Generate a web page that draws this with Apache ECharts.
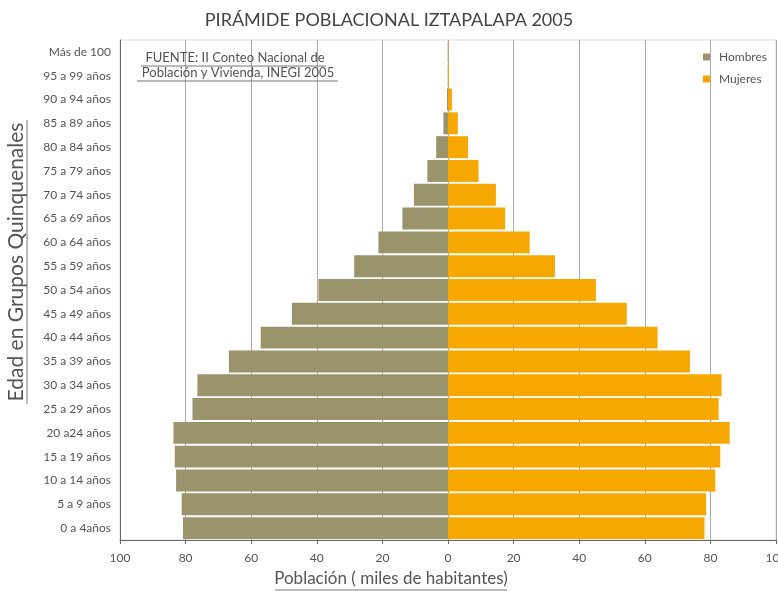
<!DOCTYPE html>
<html>
<head>
<meta charset="utf-8">
<script src="https://cdn.jsdelivr.net/npm/echarts@6/dist/echarts.min.js"></script>
<style>html,body{margin:0;padding:0;background:#fff}#c{width:778px;height:591px}</style>
</head>
<body>
<div id="c"></div>
<script>
const categories = ["0 a 4años","5 a 9 años","10 a 14 años","15 a 19 años","20 a24 años","25 a 29 años","30 a 34 años","35 a 39 años","40 a 44 años","45 a 49 años","50 a 54 años","55 a 59 años","60 a 64 años","65 a 69 años","70 a 74 años","75 a 79 años","80 a 84 años","85 a 89 años","90 a 94 años","95 a 99 años","Más de 100"];
const hombres = [80.8,81.2,82.9,83.3,83.7,77.9,76.4,66.8,57.1,47.6,39.5,28.6,21.2,13.9,10.4,6.3,3.6,1.4,0.3,0.1,0.1];
const mujeres = [78.2,78.7,81.5,83.0,85.9,82.5,83.4,73.8,63.9,54.5,45.1,32.6,24.9,17.4,14.6,9.3,6.1,3.0,1.2,0.3,0.1];
const xTicks = [-100,-80,-60,-40,-20,0,20,40,60,80,100];

const FONT = 'Lato, "DejaVu Sans", sans-serif';
const chart = echarts.init(document.getElementById('c'), null, {renderer:'canvas'});
const txt = (x,y,text,size,extra) => Object.assign({type:'text', x:x, y:y, z:10,
  style:{text:text, font:size+'px '+FONT, fill:'#555', textAlign:'center', textVerticalAlign:'middle', align:'center', verticalAlign:'middle'}}, extra||{});
const ln = (x1,y1,x2,y2) => ({type:'line', z:10, shape:{x1:x1,y1:y1,x2:x2,y2:y2}, style:{stroke:'#777', lineWidth:1}});

chart.setOption({
  animation:false,
  backgroundColor:'#fff',
  title:{text:'PIRÁMIDE POBLACIONAL IZTAPALAPA 2005', left:'center', top:6,
    textStyle:{fontFamily:FONT, fontSize:18, fontWeight:'normal', color:'#444'}},
  legend:{orient:'vertical', left:698, top:46, itemWidth:7, itemHeight:7, itemGap:10, icon:'rect',
    textStyle:{fontFamily:FONT, fontSize:12, color:'#555', padding:[0,0,0,4]},
    data:['Hombres','Mujeres']},
  grid:{left:120, right:2, top:40, bottom:51, outerBoundsMode:'none', containLabel:false,
    show:true, borderColor:'#ddd', borderWidth:1},
  xAxis:{type:'value', min:-100, max:100, interval:20,
    axisLine:{show:true, lineStyle:{color:'#666'}},
    axisTick:{show:true, length:4, lineStyle:{color:'#666'}},
    axisLabel:{formatter:v=>Math.abs(v), fontFamily:FONT, fontSize:12, color:'#555', margin:12},
    splitLine:{show:true, lineStyle:{color:'#aaa', width:1}}},
  yAxis:{type:'category', data:categories,
    axisLine:{show:true, onZero:false, lineStyle:{color:'#666'}},
    axisTick:{show:false},
    axisLabel:{fontFamily:FONT, fontSize:12, color:'#555', margin:9},
    splitLine:{show:false}},
  series:[
    {name:'Hombres', type:'bar', stack:'p', data:hombres.map(v=>-v), barCategoryGap:'8%',
      itemStyle:{color:'#99946C'}},
    {name:'Mujeres', type:'bar', stack:'p', data:mujeres, barCategoryGap:'8%',
      itemStyle:{color:'#F7A800'}}
  ],
  graphic:[
    txt(16,262,'Edad en Grupos Quinquenales',21,{rotation:Math.PI/2}),
    ln(27,120,27,404),
    txt(391,579,'Población ( miles de habitantes)',17),
    ln(275,590,507,590),
    txt(235,58,'FUENTE: II Conteo Nacional de',13),
    ln(141,66,326,66),
    txt(238,73,'Población y Vivienda, INEGI 2005',13),
    ln(137,81,338,81)
  ]
});
</script>
</body>
</html>
